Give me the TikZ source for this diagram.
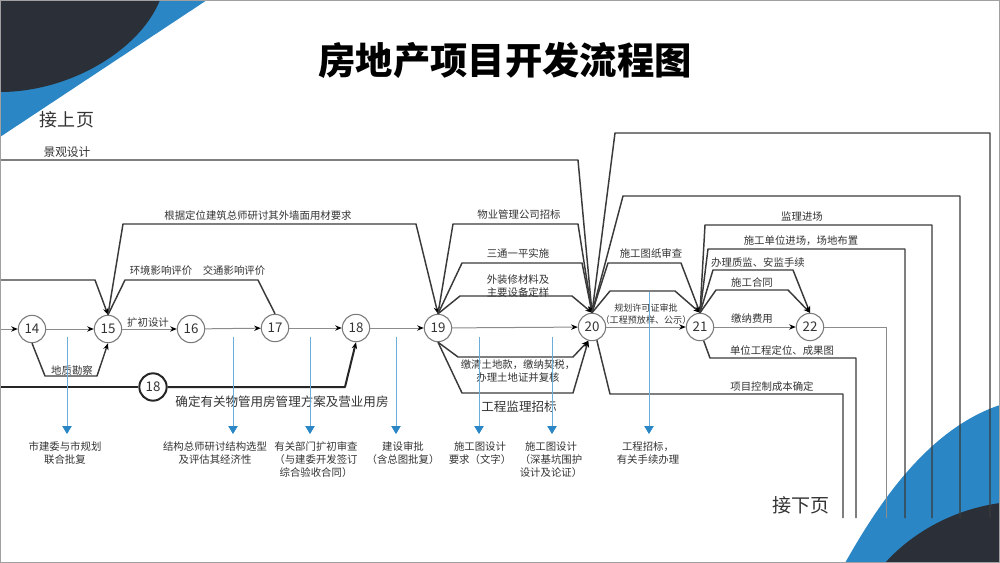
\documentclass[tikz,border=0pt]{standalone}
\usepackage{fontspec}
\setmainfont{Noto Sans CJK SC}
\usetikzlibrary{arrows.meta}
\definecolor{ink}{HTML}{3A3A3A}
\definecolor{txt}{HTML}{333333}
\definecolor{thinl}{HTML}{8C8C8C}
\definecolor{circ}{HTML}{7A7A7A}
\definecolor{bluel}{HTML}{6AAFDB}
\definecolor{blued}{HTML}{2A86C5}
\definecolor{navy}{HTML}{2B2F38}
\definecolor{framec}{HTML}{A0A0A0}
\tikzset{
  conn/.style={draw=ink, line width=1.1pt, line join=round},
  heavy/.style={draw=black!85, line width=1.5pt, line join=round},
  mainl/.style={draw=thinl, line width=0.75pt},
  tip/.style={-{Stealth[length=5pt,width=4pt,color=black]}},
  num/.style={circle, draw=circ, line width=0.8pt, fill=white, minimum size=20.5pt, inner sep=0pt, text=txt, font=\fontsize{10}{10}\selectfont},
  lbl/.style={text=txt, inner sep=0pt, font=\fontsize{7.8}{9.75}\selectfont, align=center},
  big/.style={text=txt, inner sep=0pt, font=\fontsize{9.4}{11}\selectfont},
  down/.style={draw=bluel, line width=0.6pt, -{Triangle[length=6pt,width=7pt,color=blued]}},
}
\begin{document}
\begin{tikzpicture}[x=0.75pt,y=-0.75pt]
\useasboundingbox (0,0) rectangle (1000,563);
% decorations
\fill[blued] (0,0) -- (207,0) -- (0,137) -- cycle;
\fill[navy] (0,0) -- (160,0) .. controls (140,50) and (70,92) .. (0,92) -- cycle;
\fill[blued] (845,563) .. controls (875,510) and (925,430) .. (1000,405) -- (1000,563) -- cycle;
\fill[navy] (885,563) .. controls (910,535) and (950,510) .. (1000,503) -- (1000,563) -- cycle;

% title and page labels
\node[font=\fontsize{28}{30}\selectfont\bfseries, inner sep=0pt] (title) at (505,60) {房地产项目开发流程图};
\node[text=txt, inner sep=0pt, font=\fontsize{13.5}{15}\selectfont] (prev) at (67,120) {接上页};
\node[text=txt, inner sep=0pt, font=\fontsize{14.3}{16}\selectfont] (next) at (801,505) {接下页};

% nodes
\node[num] (n14) at (32,329) {14};
\node[num] (n15) at (108,329) {15};
\node[num] (n16) at (191,329) {16};
\node[num] (n17) at (275,328) {17};
\node[num] (n18) at (356,328) {18};
\node[num] (n19) at (438,328) {19};
\node[num] (n20) at (592,327) {20};
\node[num] (n21) at (700,327) {21};
\node[num] (n22) at (810,327) {22};
\node[num, draw=black!85, line width=1.5pt] (n18b) at (153,387) {18};

% free ends
\coordinate (L1) at (0,329);
\coordinate (L2) at (0,280);
\coordinate (L3) at (0,387);
\coordinate (L4) at (0,160);
\coordinate (E1) at (990,518);
\coordinate (E2) at (960,518);
\coordinate (E3) at (932,518);
\coordinate (E4) at (905,518);
\coordinate (E5) at (886,518);
\coordinate (E6) at (856,518);
\coordinate (E7) at (843,518);

% main line
\draw[mainl,tip] (L1) -- (n14);
\draw[mainl,tip] (n14) -- (n15);
\draw[mainl,tip] (n15) -- (n16);
\draw[mainl,tip] (n16) -- (n17);
\draw[mainl,tip] (n17) -- (n18);
\draw[mainl,tip] (n18) -- (n19);
\draw[mainl,tip] (n19) -- (n20);
\draw[mainl,tip] (n20) -- (n21);
\draw[mainl,tip] (n21) -- (n22);
\draw[mainl] (n22) -- (886,327) -- (E5);

% connectors around 15
\draw[conn,tip] (L2) -- (95,280) -- (n15.north);
\draw[conn,tip] (n15.north) -- (123,224) -- (416,224) -- (n19.north);
\draw[conn] (n15.north) -- (125,280) -- (258,280) -- (n17.north);
\draw[conn,tip] (n14.south) -- (45,376) -- (97,376) -- (n15.south);
\draw[heavy] (L3) -- (n18b);
\draw[heavy,tip] (n18b) -- (345,387) -- (n18.south);

% 19 -> 20
\draw[conn,tip] (L4) -- (578,160) -- (n20.north);
\draw[conn,tip] (n19.north) -- (453,224) -- (578,224) -- (n20.north);
\draw[conn,tip] (n19.north) -- (462,263) -- (582,263) -- (n20.north);
\draw[conn,tip] (n19.north) -- (460,296) -- (572,296) -- (n20.north);
\draw[conn,tip] (n19.south) -- (458,357) -- (573,357) -- (n20.255);
\draw[conn,tip] (n19.south) -- (462,393) -- (573,393) -- (n20.255);

% from 20
\draw[conn] (n20.north) -- (615,133) -- (990,133) -- (E1);
\draw[conn] (n20.north) -- (623,196) -- (960,196) -- (E2);
\draw[conn,tip] (n20.north) -- (608,263) -- (681,263) -- (n21.north);
\draw[conn,tip] (n20.north) -- (610,291) -- (675,291) -- (n21.north);
\draw[conn] (n20.290) -- (610,394) -- (843,394) -- (E7);

% from 21
\draw[conn] (n21.north) -- (705,225) -- (932,225) -- (E3);
\draw[conn] (n21.north) -- (708,249) -- (905,249) -- (E4);
\draw[conn,tip] (n21.north) -- (713,270) -- (793,270) -- (n22.north);
\draw[conn,tip] (n21.north) -- (716,290) -- (788,290) -- (n22.north);
\draw[conn] (n21.285) -- (710,358) -- (856,358) -- (E6);

% labels
\node[lbl, font=\fontsize{8.8}{10}\selectfont] (a1) at (67,152) {景观设计};
\node[lbl] (a2) at (258,216) {根据定位建筑总师研讨其外墙面用材要求};
\node[lbl] (a3) at (161,271) {环境影响评价};
\node[lbl] (a4) at (234,271) {交通影响评价};
\node[lbl] (a5) at (148,323) {扩初设计};
\node[lbl] (a6) at (72,371) {地质勘察};
\node[big] (a7) at (282,402) {确定有关物管用房管理方案及营业用房};
\node[lbl] (a8) at (519,215) {物业管理公司招标};
\node[lbl] (a9) at (518,254) {三通一平实施};
\node[lbl] (a10) at (518,286.5) {外装修材料及\\主要设备定样};
\node[lbl] (a11) at (518,371) {缴清土地款，缴纳契税，\\办理土地证并复核};
\node[big] (a12) at (519,407) {工程监理招标};
\node[lbl] (a13) at (651,254) {施工图纸审查};
\node[lbl, font=\fontsize{6.8}{9}\selectfont] (a14) at (646,314) {规划许可证审批\\（工程预放样、公示）};
\node[lbl] (a15) at (802,217) {监理进场};
\node[lbl] (a16) at (801,241) {施工单位进场，场地布置};
\node[lbl] (a17) at (758,263) {办理质监、安监手续};
\node[lbl] (a18) at (752,283) {施工合同};
\node[lbl] (a19) at (752,319) {缴纳费用};
\node[lbl] (a20) at (782,351) {单位工程定位、成果图};
\node[lbl] (a21) at (772,387) {项目控制成本确定};

% blue notes
\node[lbl, anchor=north] (t1) at (65,441) {市建委与市规划\\联合批复};
\node[lbl, anchor=north] (t2) at (215,441) {结构总师研讨结构选型\\及评估其经济性};
\node[lbl, anchor=north] (t3) at (316,441) {有关部门扩初审查\\（与建委开发签订\\综合验收合同）};
\node[lbl, anchor=north] (t4) at (403,441) {建设审批\\（含总图批复）};
\node[lbl, anchor=north] (t5) at (480,441) {施工图设计\\要求（文字）};
\node[lbl, anchor=north] (t6) at (551,441) {施工图设计\\（深基坑围护\\设计及论证）};
\node[lbl, anchor=north] (t7) at (648,441) {工程招标，\\有关手续办理};
\coordinate (s1) at (67,337);
\coordinate (s2) at (233,337);
\coordinate (s3) at (310,337);
\coordinate (s4) at (396,337);
\coordinate (s5) at (479,337);
\coordinate (s6) at (552,337);
\coordinate (s7) at (649,292);
\draw[down] (s1) -- ([yshift=5.2pt]s1 |- t1.north);
\draw[down] (s2) -- ([yshift=5.2pt]s2 |- t2.north);
\draw[down] (s3) -- ([yshift=5.2pt]s3 |- t3.north);
\draw[down] (s4) -- ([yshift=5.2pt]s4 |- t4.north);
\draw[down] (s5) -- ([yshift=5.2pt]s5 |- t5.north);
\draw[down] (s6) -- ([yshift=5.2pt]s6 |- t6.north);
\draw[down] (s7) -- ([yshift=5.2pt]s7 |- t7.north);

% frame
\draw[framec, line width=0.6pt] (0.5,0.5) rectangle (999.5,562.5);
\end{tikzpicture}
\end{document}
